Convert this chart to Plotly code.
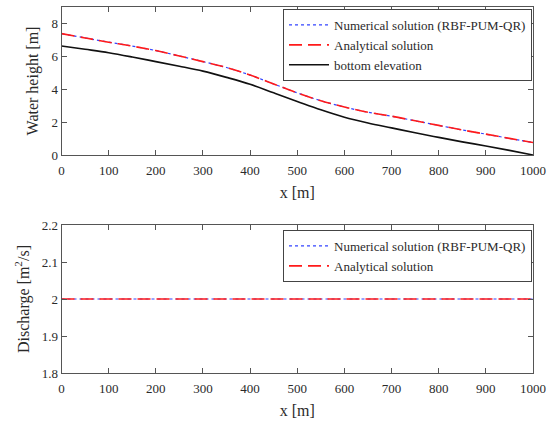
import plotly.graph_objects as go

# Spatial grid [m]
x_m = [0, 50, 100, 150, 200, 250, 300, 350, 400, 450, 500,
       550, 600, 650, 700, 750, 800, 850, 900, 950, 1000]

# Water surface from the analytical solution [m]
surface_exact = [7.38, 7.12, 6.86, 6.62, 6.35, 6.02, 5.68, 5.32, 4.86, 4.32, 3.78,
                 3.30, 2.92, 2.60, 2.36, 2.08, 1.80, 1.52, 1.27, 1.01, 0.76]
# Water surface computed with RBF-PUM-QR [m]
surface_num = [7.38, 7.12, 6.86, 6.62, 6.35, 6.02, 5.68, 5.32, 4.86, 4.32, 3.78,
               3.30, 2.92, 2.60, 2.36, 2.08, 1.80, 1.52, 1.27, 1.01, 0.76]
# Bed profile [m]
bottom = [6.63, 6.43, 6.22, 5.96, 5.68, 5.40, 5.10, 4.72, 4.30, 3.78, 3.26,
          2.75, 2.30, 1.95, 1.65, 1.35, 1.07, 0.80, 0.55, 0.28, 0.00]

# Unit discharge [m^2/s]
q_exact = [2.0] * len(x_m)
q_num = [2.0, 2.0, 2.0, 2.0, 2.0, 2.0, 2.0, 2.0, 2.0, 2.0, 2.0,
         2.0, 2.0, 2.0, 2.0, 2.0, 2.0, 2.0, 2.0, 2.0, 2.0]

x_ticks = [0, 100, 200, 300, 400, 500, 600, 700, 800, 900, 1000]

FONT = "Liberation Serif"
TXT = "#2a2a2a"
AX = "#555555"

fig = go.Figure()

fig.add_trace(go.Scatter(x=x_m, y=surface_num, mode="lines", name="Numerical solution (RBF-PUM-QR)",
                         line=dict(color="#3344ff", width=1.2, dash="dot", shape="spline"),
                         legend="legend", xaxis="x", yaxis="y"))
fig.add_trace(go.Scatter(x=x_m, y=surface_exact, mode="lines", name="Analytical solution",
                         line=dict(color="#ff1a1a", width=1.6, dash="13px,6px", shape="spline"),
                         legend="legend", xaxis="x", yaxis="y"))
fig.add_trace(go.Scatter(x=x_m, y=bottom, mode="lines", name="bottom elevation",
                         line=dict(color="#111111", width=1.6, shape="spline"),
                         legend="legend", xaxis="x", yaxis="y"))

fig.add_trace(go.Scatter(x=x_m, y=q_num, mode="lines", name="Numerical solution (RBF-PUM-QR)",
                         line=dict(color="#3344ff", width=1.2, dash="dot"),
                         legend="legend2", xaxis="x2", yaxis="y2"))
fig.add_trace(go.Scatter(x=x_m, y=q_exact, mode="lines", name="Analytical solution",
                         line=dict(color="#ff1a1a", width=1.6, dash="13px,6px"),
                         legend="legend2", xaxis="x2", yaxis="y2"))

W, H = 547, 421
x0, x1 = 61.5 / W, 533 / W


def ydom(top_px, bot_px):
    return [(H - bot_px) / H, (H - top_px) / H]


axis_common = dict(showline=True, linecolor=AX, linewidth=1, mirror="ticks",
                   ticks="inside", ticklen=5, tickcolor=AX, showgrid=False, zeroline=False,
                   automargin=False,
                   tickfont=dict(family=FONT, size=13, color=TXT),
                   title_font=dict(family=FONT, size=16, color=TXT))

xaxis_extra = dict(ticklabelstandoff=3)

fig.update_layout(
    width=W, height=H,
    margin=dict(l=0, r=0, t=0, b=0, autoexpand=False),
    paper_bgcolor="white", plot_bgcolor="white",
    font=dict(family=FONT, size=13, color=TXT),
    xaxis=dict(domain=[x0, x1], range=[0, 1000], tickvals=x_ticks, anchor="y",
               title=dict(text="x [m]", standoff=10), **axis_common, **xaxis_extra),
    yaxis=dict(domain=ydom(7, 155), range=[0, 9], tickvals=[0, 2, 4, 6, 8], anchor="x",
               title=dict(text="Water height [m]", standoff=8), **axis_common),
    xaxis2=dict(domain=[x0, x1], range=[0, 1000], tickvals=x_ticks, anchor="y2",
                title=dict(text="x [m]", standoff=10), **axis_common, **xaxis_extra),
    yaxis2=dict(domain=ydom(225, 373), range=[1.8, 2.2], tickvals=[1.8, 1.9, 2.0, 2.1, 2.2],
                ticktext=["1.8", "1.9", "2", "2.1", "2.2"], anchor="x2",
                title=dict(text="Discharge [m<sup>2</sup>/s]", standoff=8), **axis_common),
    legend=dict(x=532 / W, xanchor="right", y=(H - 9) / H, yanchor="top",
                bgcolor="white", bordercolor="#444444", borderwidth=1,
                font=dict(family=FONT, size=13, color=TXT),
                tracegroupgap=0, itemwidth=40),
    legend2=dict(x=532 / W, xanchor="right", y=(H - 230) / H, yanchor="top",
                 bgcolor="white", bordercolor="#444444", borderwidth=1,
                 font=dict(family=FONT, size=13, color=TXT),
                 tracegroupgap=0, itemwidth=40),
    showlegend=True,
)

fig.write_html("out.html")
